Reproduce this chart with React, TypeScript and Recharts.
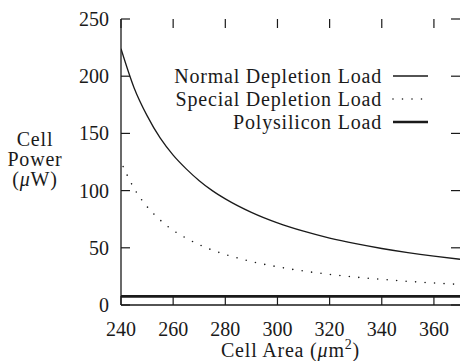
import { LineChart, Line, XAxis, YAxis, Legend } from "recharts";

const cellArea = [240, 245, 250, 255, 260, 265, 270, 275, 280, 290, 300, 310, 320, 330, 340, 350, 360, 370];
const normalPower = [224, 190, 165.5, 146, 131, 119, 108.7, 100, 92.8, 81, 71.8, 64.5, 58.5, 53.6, 49.4, 45.8, 42.7, 40];
const specialPower = [125, 102, 86, 74.3, 65.3, 58.4, 52.7, 48, 44.2, 38, 33.4, 29.7, 26.8, 24.4, 22.4, 20.7, 19.2, 18];
const polyPower = [7.5, 7.5, 7.5, 7.5, 7.5, 7.5, 7.5, 7.5, 7.5, 7.5, 7.5, 7.5, 7.5, 7.5, 7.5, 7.5, 7.5, 7.5];

const xTicks = [240, 260, 280, 300, 320, 340, 360];
const yTicks = [0, 50, 100, 150, 200, 250];

const data = cellArea.map((a, i) => ({
  area: a,
  normal: normalPower[i],
  special: specialPower[i],
  poly: polyPower[i],
}));

const FONT = "Liberation Serif";
const INK = "#1a1a1a";

// plot box edges in page pixels (from the chart margins / axis sizes below)
const TOP = 19;
const LEFT = 121;
const RIGHT = 460;
const TICK = 9;
const X_GAP = 17;
const Y_GAP = 12;

const series = [
  { key: "normal", name: "Normal Depletion Load", width: 1.3, dash: undefined, phase: 0 },
  { key: "special", name: "Special Depletion Load", width: 1.6, dash: "0 9.5", phase: 4.5 },
  { key: "poly", name: "Polysilicon Load", width: 2.6, dash: undefined, phase: 0 },
];

// bottom tick label + inward ticks on bottom and top frame
function XTick(props: any) {
  const { x, y, payload } = props;
  const base = y - X_GAP;
  return (
    <g>
      <line x1={x} x2={x} y1={base} y2={base - TICK} stroke={INK} strokeWidth={1.2} />
      <line x1={x} x2={x} y1={TOP} y2={TOP + TICK} stroke={INK} strokeWidth={1.2} />
      <text x={x} y={y + 14} textAnchor="middle" fontFamily={FONT} fontSize={20} fill={INK}>
        {payload.value}
      </text>
    </g>
  );
}

// left tick label + inward ticks on left and right frame
function YTick(props: any) {
  const { x, y, payload } = props;
  return (
    <g>
      <line x1={LEFT} x2={LEFT + TICK} y1={y} y2={y} stroke={INK} strokeWidth={1.2} />
      <line x1={RIGHT} x2={RIGHT - TICK} y1={y} y2={y} stroke={INK} strokeWidth={1.2} />
      <text x={x} y={y + 7} textAnchor="end" fontFamily={FONT} fontSize={20} fill={INK}>
        {payload.value}
      </text>
    </g>
  );
}

function renderLegend() {
  return (
    <svg width={290} height={75}>
      {series.map((s, i) => {
        const cy = 16 + i * 23;
        return (
          <g key={s.key}>
            <text
              x={232}
              y={cy + 7}
              textAnchor="end"
              fontFamily={FONT}
              fontSize={20}
              letterSpacing={0.8}
              fill={INK}
            >
              {s.name}
            </text>
            <line
              x1={243}
              x2={278}
              y1={cy}
              y2={cy}
              stroke={INK}
              strokeWidth={s.width}
              strokeDasharray={s.dash}
              strokeLinecap={s.dash ? "round" : "butt"}
            />
          </g>
        );
      })}
    </svg>
  );
}

function YTitle(props: any) {
  const { viewBox } = props;
  const cx = 35;
  const y0 = viewBox.y;
  return (
    <text textAnchor="middle" fontFamily={FONT} fontSize={20} letterSpacing={0.8} fill={INK}>
      <tspan x={cx} y={y0 + 127}>Cell</tspan>
      <tspan x={cx} y={y0 + 147}>Power</tspan>
      <tspan x={cx} y={y0 + 167}>
        (<tspan fontStyle="italic">μ</tspan>W)
      </tspan>
    </text>
  );
}

function XTitle(props: any) {
  const { viewBox } = props;
  const cx = viewBox.x + viewBox.width / 2;
  return (
    <text
      x={cx}
      y={viewBox.y + 52}
      textAnchor="middle"
      fontFamily={FONT}
      fontSize={20}
      letterSpacing={0.8}
      fill={INK}
    >
      Cell Area (<tspan fontStyle="italic">μ</tspan>m
      <tspan dy={-8} fontSize={14}>2</tspan>
      <tspan dy={8}>)</tspan>
    </text>
  );
}

export default function App() {
  const frame = { stroke: INK, strokeWidth: 1.3 };
  return (
    <div style={{ position: "absolute", left: 0, top: 0, background: "#fff" }}>
      <LineChart
        width={460}
        height={361}
        data={data}
        margin={{ top: TOP, right: 0, bottom: 0, left: 0 }}
      >
        <XAxis
          dataKey="area"
          type="number"
          domain={[240, 370]}
          allowDataOverflow
          ticks={xTicks}
          height={56}
          tickSize={0}
          tickMargin={X_GAP}
          tickLine={false}
          tick={<XTick />}
          axisLine={frame}
          label={<XTitle />}
        />
        <YAxis
          type="number"
          domain={[0, 250]}
          allowDataOverflow
          ticks={yTicks}
          width={LEFT}
          tickSize={0}
          tickMargin={Y_GAP}
          tickLine={false}
          tick={<YTick />}
          axisLine={frame}
          label={<YTitle />}
        />
        <XAxis
          xAxisId="top"
          orientation="top"
          dataKey="area"
          type="number"
          domain={[240, 370]}
          allowDataOverflow
          height={0}
          tick={false}
          tickLine={false}
          axisLine={frame}
        />
        <Legend
          layout="horizontal"
          verticalAlign="middle"
          align="center"
          content={renderLegend}
          wrapperStyle={{ left: 150, top: 60, width: 290, height: 75 }}
        />
        {series.map((s) => (
          <Line
            key={s.key}
            dataKey={s.key}
            name={s.name}
            type="monotone"
            stroke={INK}
            strokeWidth={s.width}
            strokeDasharray={s.dash}
            strokeDashoffset={s.phase}
            strokeLinecap={s.dash ? "round" : "butt"}
            dot={false}
            activeDot={false}
            isAnimationActive={false}
          />
        ))}
      </LineChart>
    </div>
  );
}
